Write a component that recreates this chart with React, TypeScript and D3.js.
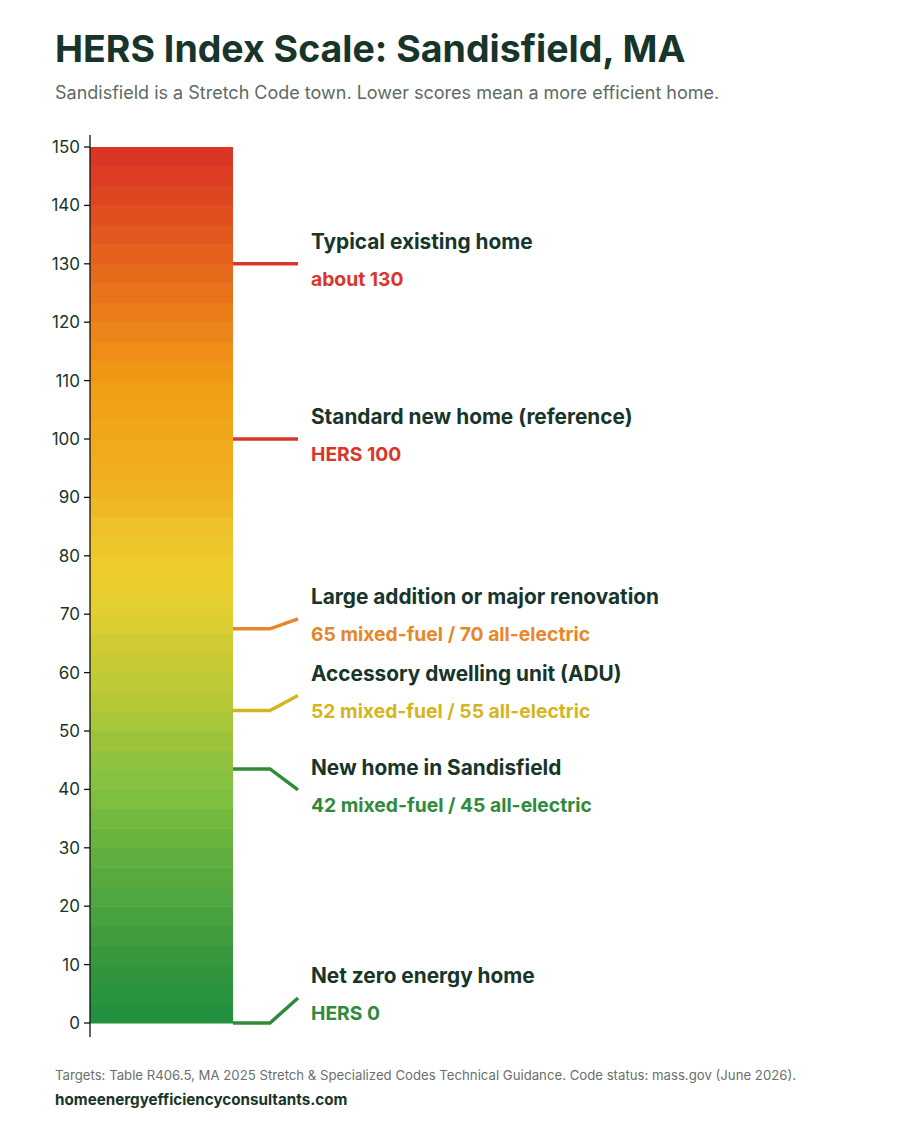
import React from "react";
import * as d3 from "d3";

// HERS scale colour ramp (score -> colour)
const rampScores = [0, 10, 20, 30, 38, 45, 52, 58, 65, 70, 77, 85, 90, 100, 110, 120, 130, 140, 150];
const rampColors = [
  "#21903e", "#33963d", "#4ca440", "#64b03e", "#7dbf40", "#8fc23e", "#a9c63a", "#bfc936",
  "#d0cb34", "#e0cf31", "#ecce2c", "#eec02a", "#efb222", "#f0a81c", "#f09c14", "#eb801a",
  "#e4661c", "#df4a20", "#da3125",
];

const tickValues = d3.range(0, 151, 10);

// callouts
const calloutTitles = [
  "Typical existing home",
  "Standard new home (reference)",
  "Large addition or major renovation",
  "Accessory dwelling unit (ADU)",
  "New home in Sandisfield",
  "Net zero energy home",
];
const calloutValueText = [
  "about 130",
  "HERS 100",
  "65 mixed-fuel / 70 all-electric",
  "52 mixed-fuel / 55 all-electric",
  "42 mixed-fuel / 45 all-electric",
  "HERS 0",
];
const calloutLow = [130, 100, 65, 52, 42, 0];
const calloutHigh = [130, 100, 70, 55, 45, 0];
const calloutColors = ["#d9372a", "#d9372a", "#e8862a", "#d6b41e", "#2f8a3c", "#2f8a3c"];

// pixel nudges so the two-line labels don't collide
const labelNudge = [0, 0, -10, -15, 21, -25];

const W = 900;
const H = 1125;
const FONT = "Inter, 'Noto Sans', sans-serif";
const DARK = "#17352a";

export default function App() {
  const y = d3.scaleLinear().domain([0, 150]).range([1023, 147]);
  const barX = 90;
  const barW = 143;

  const color = d3.scaleLinear<string>().domain(rampScores).range(rampColors).interpolate(d3.interpolateRgb);

  const bandStep = 150 / 45;
  const bands = d3.range(45).map((i) => {
    const lo = i * bandStep;
    const hi = lo + bandStep;
    return { lo, hi, fill: color(lo + bandStep / 2) };
  });

  const leader = d3.line<[number, number]>();

  return (
    <svg width={W} height={H} style={{ display: "block", margin: "-8px" }} fontFamily={FONT}>
      <rect width={W} height={H} fill="#ffffff" />
      <text x={55} y={62} fontSize={37.5} fontWeight={700} fill={DARK}>
        HERS Index Scale: Sandisfield, MA
      </text>
      <text x={55} y={99} fontSize={18} fill="#5b6b64">
        Sandisfield is a Stretch Code town. Lower scores mean a more efficient home.
      </text>

      {bands.map((b, i) => (
        <rect key={i} x={barX} y={y(b.hi)} width={barW} height={y(b.lo) - y(b.hi) + 0.5} fill={b.fill} />
      ))}

      <line x1={barX} x2={barX} y1={135} y2={1037} stroke="#111" strokeWidth={1.3} />
      {tickValues.map((t) => (
        <g key={t} transform={`translate(0,${y(t)})`}>
          <line x1={barX - 6} x2={barX} stroke="#111" strokeWidth={1.3} />
          <text x={barX - 10} dy="0.35em" textAnchor="end" fontSize={17} fill={DARK}>
            {t}
          </text>
        </g>
      ))}

      {calloutTitles.map((title, i) => {
        const anchor = y((calloutLow[i] + calloutHigh[i]) / 2);
        const ly = anchor + labelNudge[i];
        const pts: [number, number][] = [
          [barX + barW, anchor],
          [270, anchor],
          [298, ly],
        ];
        return (
          <g key={title}>
            <path d={leader(pts) || ""} fill="none" stroke={calloutColors[i]} strokeWidth={3.5} />
            <text x={311} y={ly - 15} fontSize={20.8} fontWeight={700} fill={DARK}>
              {title}
            </text>
            <text x={311} y={ly + 22} fontSize={19.3} fontWeight={700} fill={calloutColors[i]}>
              {calloutValueText[i]}
            </text>
          </g>
        );
      })}

      <text x={55} y={1080} fontSize={13.2} fill="#6a6f6c">
        Targets: Table R406.5, MA 2025 Stretch &amp; Specialized Codes Technical Guidance. Code status: mass.gov (June 2026).
      </text>
      <text x={55} y={1105} fontSize={15.2} fontWeight={700} fill={DARK}>
        homeenergyefficiencyconsultants.com
      </text>
    </svg>
  );
}
